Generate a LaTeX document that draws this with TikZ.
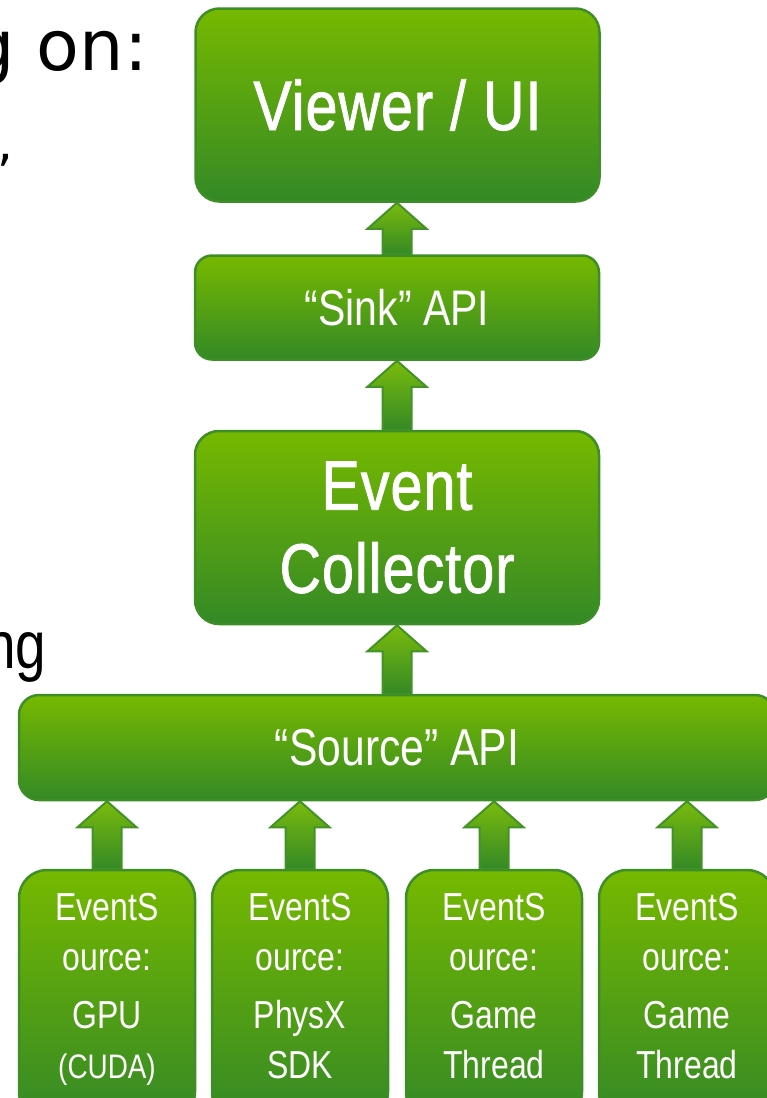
\documentclass[tikz,border=0pt]{standalone}
\usepackage{fontspec}
\setmainfont{Liberation Sans}[FakeStretch=0.82]
\newfontfamily\heavyfont{Liberation Sans}[FakeStretch=0.82,FakeBold=1.2,LetterSpace=1.5]
\newfontfamily\dejavu{DejaVu Sans}
\usetikzlibrary{calc,backgrounds}
\definecolor{gtop}{RGB}{118,185,0}
\definecolor{gbot}{RGB}{52,137,38}
\definecolor{gline}{RGB}{62,142,40}
\definecolor{atop}{RGB}{122,187,12}
\definecolor{abot}{RGB}{52,137,38}
\definecolor{aline}{RGB}{66,146,40}
\tikzset{
  gbox/.style={draw=gline, line width=2.5pt, top color=gtop, bottom color=gbot,
    inner sep=0pt, text=white, align=center},
  bigtext/.style={font=\heavyfont\fontsize{70}{83}\selectfont},
  midtext/.style={font=\fontsize{50}{60}\selectfont},
  smalltext/.style={text=white, align=center, inner sep=0pt, font=\fontsize{39}{50}\selectfont},
  garrow/.style={draw=aline, line width=2pt, top color=atop, bottom color=abot, line join=miter},
  bgtext/.style={inner sep=0pt, text=black},
}
\newcommand\fatup[2]{%
  \path[garrow] let \p1=(#1), \p2=(#2) in
   (\x1-14.5pt,\y1) -- (\x1-14.5pt,\y2-26pt) -- (\x1-29.5pt,\y2-26pt) -- (\x1,\y2)
   -- (\x1+29.5pt,\y2-26pt) -- (\x1+14.5pt,\y2-26pt) -- (\x1+14.5pt,\y1) -- cycle;}
\begin{document}
\begin{tikzpicture}[x=1pt,y=-1pt]
\useasboundingbox (0,0) rectangle (767,1098);
\clip (0,0) rectangle (767,1098);
% background slide text
\node[bgtext, anchor=base west, font=\dejavu\fontsize{70}{80}\selectfont] (bgA) at (-30,70) {g on:};
\node[bgtext, font=\dejavu\fontsize{50}{60}\selectfont] (bgB) at (5,160) {,};
\node[bgtext, anchor=base west, font=\fontsize{67}{80}\selectfont] (bgC) at (-15,668) {ng};
% main boxes
\node[gbox, rounded corners=24pt, minimum width=404pt, minimum height=193pt, bigtext] (viewer) at (397.5,105) {Viewer / UI};
\node[gbox, rounded corners=17pt, minimum width=404pt, minimum height=104pt, midtext] (sink) at (397,307.5) {“Sink” API};
\node[gbox, rounded corners=24pt, minimum width=404pt, minimum height=193pt, bigtext] (coll) at (397,527.5) {Event\\Collector};
\node[gbox, rounded corners=20pt, minimum width=756pt, minimum height=105pt, font=\fontsize{52}{60}\selectfont] (source) at (397,747.5) {“Source” API};
% event source boxes
\foreach \n/\cx in {es1/107, es2/300, es3/494, es4/687}{
  \node[gbox, rounded corners=28pt, minimum width=176pt, minimum height=250pt] (\n) at (\cx,995) {};
}
\node[smalltext, anchor=north] (t1) at (107,893) {EventS\\ource:\\[8pt]GPU\\{\fontsize{34}{40}\selectfont(CUDA)}};
\node[smalltext, anchor=north] (t2) at (300,893) {EventS\\ource:\\[8pt]PhysX\\SDK};
\node[smalltext, anchor=north] (t3) at (494,893) {EventS\\ource:\\[8pt]Game\\Thread};
\node[smalltext, anchor=north] (t4) at (687,893) {EventS\\ource:\\[8pt]Game\\Thread};
% arrows
\begin{scope}[on background layer]
  \fatup{sink.north}{viewer.south}
  \fatup{coll.north}{sink.south}
  \fatup{source.north}{coll.south}
  \fatup{es1.north}{es1.north |- source.south}
  \fatup{es2.north}{es2.north |- source.south}
  \fatup{es3.north}{es3.north |- source.south}
  \fatup{es4.north}{es4.north |- source.south}
\end{scope}
\end{tikzpicture}
\end{document}
